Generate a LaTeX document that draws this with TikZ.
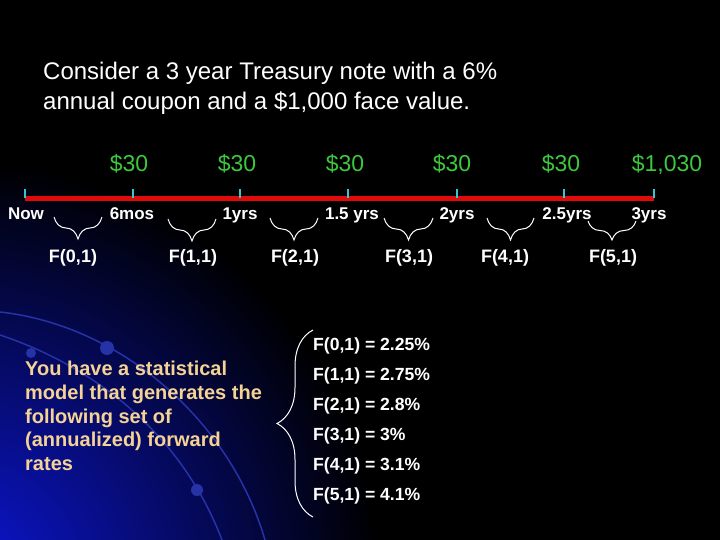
\documentclass[tikz,border=0pt]{standalone}
\usepackage{fontspec}
\setmainfont{Liberation Sans}
\usepackage{tikz}
\usetikzlibrary{positioning, calc, decorations.pathreplacing}
\definecolor{Cashgreen}{RGB}{60,200,60}
\definecolor{Axisred}{RGB}{225,10,10}
\definecolor{Tickcyan}{RGB}{50,200,210}
\definecolor{Tantext}{RGB}{245,210,150}
\definecolor{Glowblue}{RGB}{12,22,215}
\definecolor{Arcblue}{RGB}{38,50,165}

\begin{document}
\begin{tikzpicture}[
  x=1pt, y=-1pt,
  %% Estilos del eje temporal
  axis/.style={draw=Axisred, line width=5pt},
  tickmark/.style={draw=Tickcyan, line width=2.5pt},
  amt/.style={text=Cashgreen, anchor=base,
              font=\fontsize{23}{27}\selectfont},
  tlbl/.style={text=white, anchor=base,
               font=\fontsize{17}{20}\selectfont\bfseries},
  flbl/.style={text=white, anchor=base,
               font=\fontsize{18}{21}\selectfont\bfseries},
  brc/.style={draw=white, line width=1pt, decorate,
              decoration={brace, amplitude=#1, mirror}},
  brc/.default=22pt,
  dotb/.style={fill=Arcblue, draw=none}
]

%% ── Fondo ────────────────────────────────────────────────────────────────
\useasboundingbox (0,0) rectangle (720,540);
\fill[black] (0,0) rectangle (720,540);
\begin{scope}
  \clip (0,0) rectangle (720,540);
  \shade[inner color=Glowblue, outer color=black] (-40,580) circle (420);
  \draw[Arcblue, line width=1.5pt] (0,312) .. controls (120,325) and (230,420) .. (265,540);
  \draw[Arcblue, line width=1.5pt] (0,335) .. controls (90,365) and (180,430) .. (222,540);
  \fill[dotb] (31,353) circle (5);
  \fill[dotb] (107,348) circle (7);
  \fill[dotb] (197,490) circle (6);
\end{scope}

%% ── Enunciado ────────────────────────────────────────────────────────────
\node[text=white, anchor=north west, inner sep=0pt, align=left,
      font=\fontsize{24}{30}\selectfont] (titulo) at (43,62) {%
  Consider a 3 year Treasury note with a 6\%\\
  annual coupon and a \$1,000 face value.%
};

%% ── Eje temporal ─────────────────────────────────────────────────────────
\coordinate (t0) at (25,198.5);
\coordinate (t1) at (133,198.5);
\coordinate (t2) at (240,198.5);
\coordinate (t3) at (348,198.5);
\coordinate (t4) at (457,198.5);
\coordinate (t5) at (564,198.5);
\coordinate (t6) at (654,198.5);

\draw[axis] (t0) -- (t6);
\draw[tickmark] (t0) -- ++(0,-9);
\draw[tickmark] (t1) -- ++(0,-9);
\draw[tickmark] (t2) -- ++(0,-9);
\draw[tickmark] (t3) -- ++(0,-9);
\draw[tickmark] (t4) -- ++(0,-9);
\draw[tickmark] (t5) -- ++(0,-9);
\draw[tickmark] (t6) -- ++(0,-9);

%% flujos de caja
\node[amt] (c1) at (129,172) {\$30};
\node[amt] (c2) at (237,172) {\$30};
\node[amt] (c3) at (345,172) {\$30};
\node[amt] (c4) at (452,172) {\$30};
\node[amt] (c5) at (561,172) {\$30};
\node[amt] (c6) at (667,172) {\$1,030};

%% fechas
\node[tlbl] (now)  at (26,219)  {Now};
\node[tlbl] (m6)   at (132,219) {6mos};
\node[tlbl] (y1)   at (240,219) {1yrs};
\node[tlbl] (y15)  at (352,219) {1.5 yrs};
\node[tlbl] (y2)   at (457,219) {2yrs};
\node[tlbl] (y25)  at (567,219) {2.5yrs};
\node[tlbl] (y3)   at (649,219) {3yrs};

%% ── Llaves de las tasas forward ──────────────────────────────────────────
\coordinate (b0l) at (54,217);  \coordinate (b0r) at (102,217);
\coordinate (b1l) at (168,219); \coordinate (b1r) at (216,219);
\coordinate (b2l) at (270,218); \coordinate (b2r) at (318,218);
\coordinate (b3l) at (384,218); \coordinate (b3r) at (433,218);
\coordinate (b4l) at (487,218); \coordinate (b4r) at (534,218);
\coordinate (b5l) at (588,221); \coordinate (b5r) at (636,221);

\draw[brc] (b0l) -- (b0r);
\draw[brc] (b1l) -- (b1r);
\draw[brc] (b2l) -- (b2r);
\draw[brc] (b3l) -- (b3r);
\draw[brc] (b4l) -- (b4r);
\draw[brc=19pt] (b5l) -- (b5r);

\node[flbl] (f0) at (73,262)  {F(0,1)};
\node[flbl] (f1) at (193,262) {F(1,1)};
\node[flbl] (f2) at (295,262) {F(2,1)};
\node[flbl] (f3) at (409,262) {F(3,1)};
\node[flbl] (f4) at (505,262) {F(4,1)};
\node[flbl] (f5) at (613,262) {F(5,1)};

%% ── Modelo y tasas ───────────────────────────────────────────────────────
\node[text=Tantext, anchor=north west, inner sep=0pt, align=left,
      font=\fontsize{20}{23.7}\selectfont\bfseries] (modelo) at (25,361) {%
  You have a statistical\\
  model that generates the\\
  following set of\\
  (annualized) forward\\
  rates%
};

\node[text=white, anchor=north west, inner sep=0pt, align=left,
      font=\fontsize{17.6}{30}\selectfont\bfseries] (tasas) at (313,338) {%
  F(0,1) = 2.25\%\\
  F(1,1) = 2.75\%\\
  F(2,1) = 2.8\%\\
  F(3,1) = 3\%\\
  F(4,1) = 3.1\%\\
  F(5,1) = 4.1\%%
};

\coordinate (kt) at (313,330);
\coordinate (kb) at (313,517);
\draw[draw=white, line width=1pt, decorate,
      decoration={brace, amplitude=36pt}] (kb) -- (kt);

\end{tikzpicture}
\end{document}
